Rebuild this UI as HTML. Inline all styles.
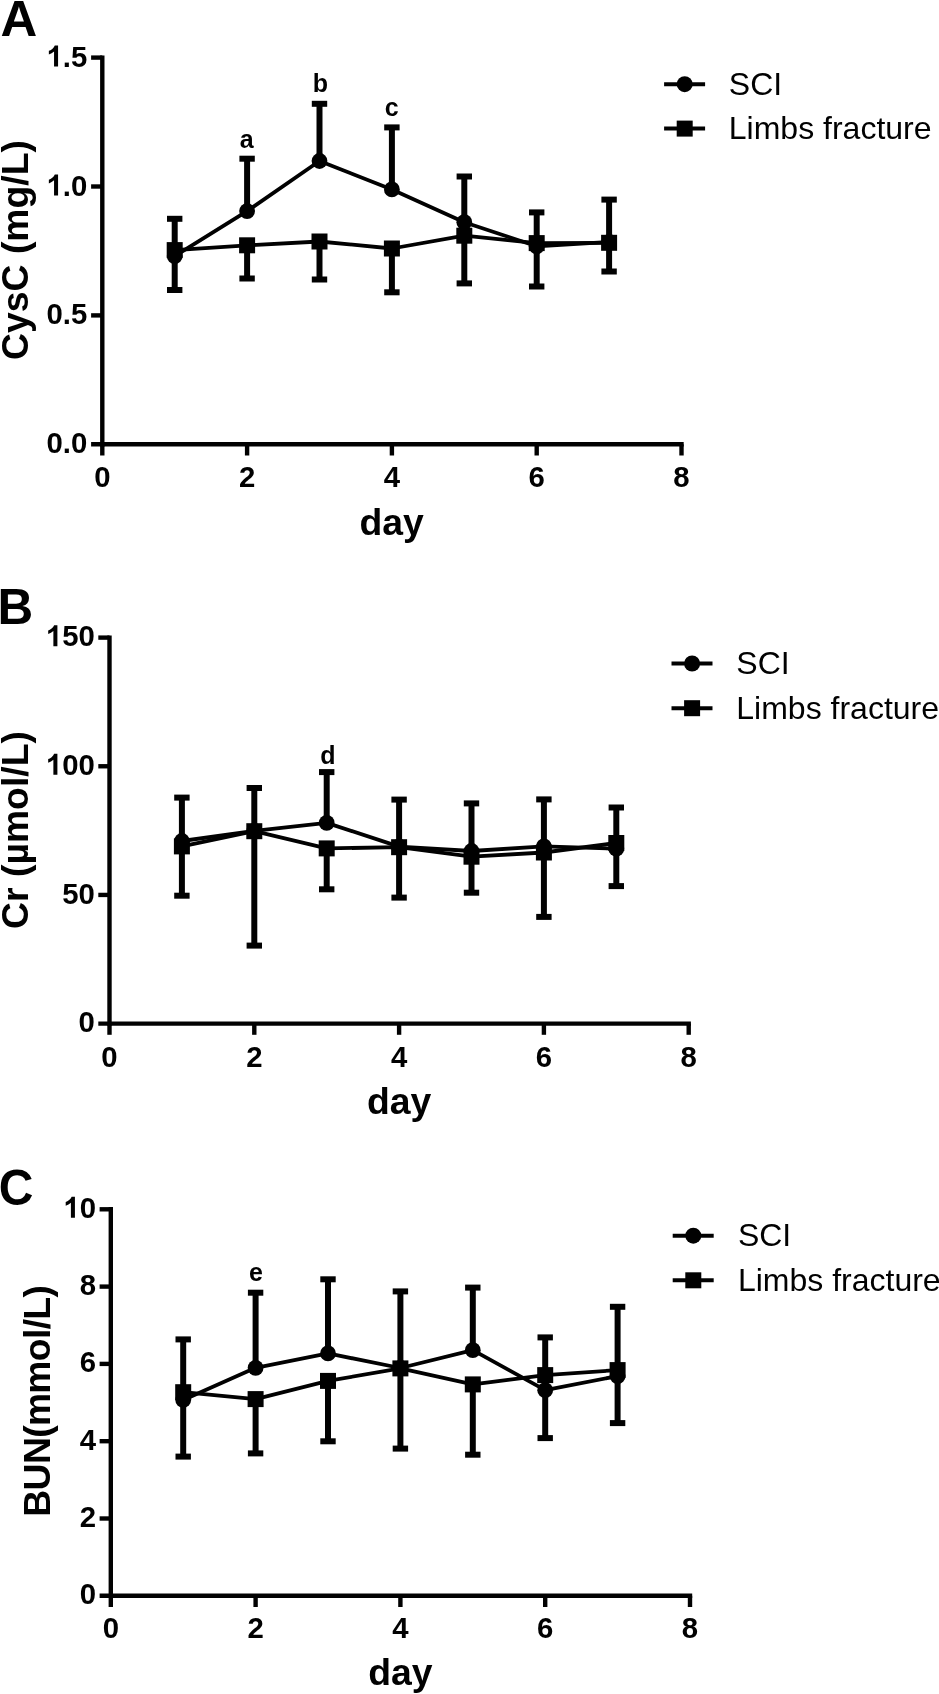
<!DOCTYPE html>
<html lang="en">
<head>
<meta charset="utf-8">
<title>CysC, Cr and BUN by day: SCI vs limbs fracture</title>
<style>
html,body{margin:0;padding:0;background:#fff;}
body{width:939px;height:1694px;overflow:hidden;}
svg{display:block;}
svg text{font-family:"Liberation Sans",sans-serif;fill:#000;}
</style>
</head>
<body>
<svg width="939" height="1694" viewBox="0 0 939 1694" shape-rendering="geometricPrecision">
<rect x="0" y="0" width="939" height="1694" fill="#fff"/>
<g opacity="0.9995">
<g>
<path d="M102.3 55.4V446.5" stroke="#000" stroke-width="4.4" fill="none"/>
<path d="M91.1 444.3H683.7" stroke="#000" stroke-width="4.4" fill="none"/>
<text transform="translate(87.3 453.3) scale(1.0 1.03)" text-anchor="end" font-size="29.33" font-weight="bold">0.0</text>
<path d="M91.1 315.4H102.3" stroke="#000" stroke-width="4.4"/>
<text transform="translate(87.3 324.4) scale(1.0 1.03)" text-anchor="end" font-size="29.33" font-weight="bold">0.5</text>
<path d="M91.1 186.5H102.3" stroke="#000" stroke-width="4.4"/>
<text transform="translate(87.3 195.5) scale(1.0 1.03)" text-anchor="end" font-size="29.33" font-weight="bold">.0</text>
<path transform="translate(46.53 195.5) scale(0.01432 -0.01432)" d="M806 0H525V1059Q371 915 162 846V1101Q272 1137 401 1237.5T578 1472H806Z"/>
<path d="M91.1 57.6H102.3" stroke="#000" stroke-width="4.4"/>
<text transform="translate(87.3 66.6) scale(1.0 1.03)" text-anchor="end" font-size="29.33" font-weight="bold">.5</text>
<path transform="translate(46.53 66.6) scale(0.01432 -0.01432)" d="M806 0H525V1059Q371 915 162 846V1101Q272 1137 401 1237.5T578 1472H806Z"/>
<path d="M102.3 444.3V455.5" stroke="#000" stroke-width="4.4"/>
<text transform="translate(102.3 486.9) scale(1.0 1.03)" text-anchor="middle" font-size="29.33" font-weight="bold">0</text>
<path d="M247.1 444.3V455.5" stroke="#000" stroke-width="4.4"/>
<text transform="translate(247.1 486.9) scale(1.0 1.03)" text-anchor="middle" font-size="29.33" font-weight="bold">2</text>
<path d="M391.9 444.3V455.5" stroke="#000" stroke-width="4.4"/>
<text transform="translate(391.9 486.9) scale(1.0 1.03)" text-anchor="middle" font-size="29.33" font-weight="bold">4</text>
<path d="M536.7 444.3V455.5" stroke="#000" stroke-width="4.4"/>
<text transform="translate(536.7 486.9) scale(1.0 1.03)" text-anchor="middle" font-size="29.33" font-weight="bold">6</text>
<path d="M681.5 444.3V455.5" stroke="#000" stroke-width="4.4"/>
<text transform="translate(681.5 486.9) scale(1.0 1.03)" text-anchor="middle" font-size="29.33" font-weight="bold">8</text>
<text x="391.7" y="534.7" text-anchor="middle" font-size="37.33" font-weight="bold">day</text>
<text transform="translate(28 250) rotate(-90)" text-anchor="middle" font-size="37.33" font-weight="bold">CysC (mg/L)</text>
<text transform="translate(0.6 35.9) scale(1.06 1.03)" font-size="48" font-weight="bold">A</text>
<path d="M174.7 256.1V218.8" stroke="#000" stroke-width="6.0"/>
<rect x="167" y="215.8" width="15.4" height="6.0"/>
<path d="M174.7 250.1V290" stroke="#000" stroke-width="6.0"/>
<rect x="167" y="287" width="15.4" height="6.0"/>
<path d="M247.1 211.1V158.7" stroke="#000" stroke-width="6.0"/>
<rect x="239.4" y="155.7" width="15.4" height="6.0"/>
<path d="M247.1 245.3V278.5" stroke="#000" stroke-width="6.0"/>
<rect x="239.4" y="275.5" width="15.4" height="6.0"/>
<path d="M319.5 161V103.8" stroke="#000" stroke-width="6.0"/>
<rect x="311.8" y="100.8" width="15.4" height="6.0"/>
<path d="M319.5 241.5V279.5" stroke="#000" stroke-width="6.0"/>
<rect x="311.8" y="276.5" width="15.4" height="6.0"/>
<path d="M391.9 189.4V127.4" stroke="#000" stroke-width="6.0"/>
<rect x="384.2" y="124.4" width="15.4" height="6.0"/>
<path d="M391.9 248.5V292.3" stroke="#000" stroke-width="6.0"/>
<rect x="384.2" y="289.3" width="15.4" height="6.0"/>
<path d="M464.3 222.2V176.5" stroke="#000" stroke-width="6.0"/>
<rect x="456.6" y="173.5" width="15.4" height="6.0"/>
<path d="M464.3 235.7V283.4" stroke="#000" stroke-width="6.0"/>
<rect x="456.6" y="280.4" width="15.4" height="6.0"/>
<path d="M536.7 246.3V212.4" stroke="#000" stroke-width="6.0"/>
<rect x="529" y="209.4" width="15.4" height="6.0"/>
<path d="M536.7 243.1V286.5" stroke="#000" stroke-width="6.0"/>
<rect x="529" y="283.5" width="15.4" height="6.0"/>
<path d="M609.1 242V199.6" stroke="#000" stroke-width="6.0"/>
<rect x="601.4" y="196.6" width="15.4" height="6.0"/>
<path d="M609.1 242.8V271.5" stroke="#000" stroke-width="6.0"/>
<rect x="601.4" y="268.5" width="15.4" height="6.0"/>
<polyline points="174.7,256.1 247.1,211.1 319.5,161 391.9,189.4 464.3,222.2 536.7,246.3 609.1,242" fill="none" stroke="#000" stroke-width="3.8" stroke-linejoin="round"/>
<polyline points="174.7,250.1 247.1,245.3 319.5,241.5 391.9,248.5 464.3,235.7 536.7,243.1 609.1,242.8" fill="none" stroke="#000" stroke-width="3.8" stroke-linejoin="round"/>
<circle cx="174.7" cy="256.1" r="7.9"/>
<circle cx="247.1" cy="211.1" r="7.9"/>
<circle cx="319.5" cy="161" r="7.9"/>
<circle cx="391.9" cy="189.4" r="7.9"/>
<circle cx="464.3" cy="222.2" r="7.9"/>
<circle cx="536.7" cy="246.3" r="7.9"/>
<circle cx="609.1" cy="242" r="7.9"/>
<rect x="166.7" y="242.1" width="16.0" height="16.0"/>
<rect x="239.1" y="237.3" width="16.0" height="16.0"/>
<rect x="311.5" y="233.5" width="16.0" height="16.0"/>
<rect x="383.9" y="240.5" width="16.0" height="16.0"/>
<rect x="456.3" y="227.7" width="16.0" height="16.0"/>
<rect x="528.7" y="235.1" width="16.0" height="16.0"/>
<rect x="601.1" y="234.8" width="16.0" height="16.0"/>
<text x="246.8" y="148" text-anchor="middle" font-size="25" font-weight="bold">a</text>
<text x="320.5" y="91.6" text-anchor="middle" font-size="25" font-weight="bold">b</text>
<text x="391.7" y="115.5" text-anchor="middle" font-size="25" font-weight="bold">c</text>
<path d="M664.1 84.2H705.1" stroke="#000" stroke-width="4"/>
<circle cx="684.7" cy="84.2" r="8"/>
<text x="728.8" y="94.8" font-size="32">SCI</text>
<path d="M664.1 128.6H705.1" stroke="#000" stroke-width="4"/>
<rect x="676.7" y="120.6" width="16" height="16"/>
<text x="728.8" y="139.2" font-size="32">Limbs fracture</text>
</g>
<g>
<path d="M109.5 635.4V1025.8" stroke="#000" stroke-width="4.4" fill="none"/>
<path d="M98.3 1023.6H690.9" stroke="#000" stroke-width="4.4" fill="none"/>
<text transform="translate(94.8 1032.2) scale(1.0 1.03)" text-anchor="end" font-size="29.33" font-weight="bold">0</text>
<path d="M98.3 894.93H109.5" stroke="#000" stroke-width="4.4"/>
<text transform="translate(94.8 903.53) scale(1.0 1.03)" text-anchor="end" font-size="29.33" font-weight="bold">50</text>
<path d="M98.3 766.27H109.5" stroke="#000" stroke-width="4.4"/>
<text transform="translate(94.8 774.87) scale(1.0 1.03)" text-anchor="end" font-size="29.33" font-weight="bold">00</text>
<path transform="translate(45.86 774.87) scale(0.01432 -0.01432)" d="M806 0H525V1059Q371 915 162 846V1101Q272 1137 401 1237.5T578 1472H806Z"/>
<path d="M98.3 637.61H109.5" stroke="#000" stroke-width="4.4"/>
<text transform="translate(94.8 646.21) scale(1.0 1.03)" text-anchor="end" font-size="29.33" font-weight="bold">50</text>
<path transform="translate(45.86 646.21) scale(0.01432 -0.01432)" d="M806 0H525V1059Q371 915 162 846V1101Q272 1137 401 1237.5T578 1472H806Z"/>
<path d="M109.5 1023.6V1034.8" stroke="#000" stroke-width="4.4"/>
<text transform="translate(109.5 1066.6) scale(1.0 1.03)" text-anchor="middle" font-size="29.33" font-weight="bold">0</text>
<path d="M254.3 1023.6V1034.8" stroke="#000" stroke-width="4.4"/>
<text transform="translate(254.3 1066.6) scale(1.0 1.03)" text-anchor="middle" font-size="29.33" font-weight="bold">2</text>
<path d="M399.1 1023.6V1034.8" stroke="#000" stroke-width="4.4"/>
<text transform="translate(399.1 1066.6) scale(1.0 1.03)" text-anchor="middle" font-size="29.33" font-weight="bold">4</text>
<path d="M543.9 1023.6V1034.8" stroke="#000" stroke-width="4.4"/>
<text transform="translate(543.9 1066.6) scale(1.0 1.03)" text-anchor="middle" font-size="29.33" font-weight="bold">6</text>
<path d="M688.7 1023.6V1034.8" stroke="#000" stroke-width="4.4"/>
<text transform="translate(688.7 1066.6) scale(1.0 1.03)" text-anchor="middle" font-size="29.33" font-weight="bold">8</text>
<text x="399.2" y="1113.8" text-anchor="middle" font-size="37.33" font-weight="bold">day</text>
<text transform="translate(27.5 830) rotate(-90)" text-anchor="middle" font-size="37.33" font-weight="bold">Cr (µmol/L)</text>
<text transform="translate(-2.5 624) scale(1.03 1.03)" font-size="48" font-weight="bold">B</text>
<path d="M181.9 841V797.6" stroke="#000" stroke-width="6.0"/>
<rect x="174.2" y="794.6" width="15.4" height="6.0"/>
<path d="M181.9 846.4V895.7" stroke="#000" stroke-width="6.0"/>
<rect x="174.2" y="892.7" width="15.4" height="6.0"/>
<path d="M254.3 830.8V788" stroke="#000" stroke-width="6.0"/>
<rect x="246.6" y="785" width="15.4" height="6.0"/>
<path d="M254.3 831.2V945.6" stroke="#000" stroke-width="6.0"/>
<rect x="246.6" y="942.6" width="15.4" height="6.0"/>
<path d="M326.7 822.9V772.1" stroke="#000" stroke-width="6.0"/>
<rect x="319" y="769.1" width="15.4" height="6.0"/>
<path d="M326.7 848.4V889.3" stroke="#000" stroke-width="6.0"/>
<rect x="319" y="886.3" width="15.4" height="6.0"/>
<path d="M399.1 846.6V799.6" stroke="#000" stroke-width="6.0"/>
<rect x="391.4" y="796.6" width="15.4" height="6.0"/>
<path d="M399.1 847.2V897.6" stroke="#000" stroke-width="6.0"/>
<rect x="391.4" y="894.6" width="15.4" height="6.0"/>
<path d="M471.5 851V803.4" stroke="#000" stroke-width="6.0"/>
<rect x="463.8" y="800.4" width="15.4" height="6.0"/>
<path d="M471.5 856.7V892.7" stroke="#000" stroke-width="6.0"/>
<rect x="463.8" y="889.7" width="15.4" height="6.0"/>
<path d="M543.9 846.4V799.4" stroke="#000" stroke-width="6.0"/>
<rect x="536.2" y="796.4" width="15.4" height="6.0"/>
<path d="M543.9 852.5V916.9" stroke="#000" stroke-width="6.0"/>
<rect x="536.2" y="913.9" width="15.4" height="6.0"/>
<path d="M616.3 848.7V807.5" stroke="#000" stroke-width="6.0"/>
<rect x="608.6" y="804.5" width="15.4" height="6.0"/>
<path d="M616.3 843V886.1" stroke="#000" stroke-width="6.0"/>
<rect x="608.6" y="883.1" width="15.4" height="6.0"/>
<polyline points="181.9,841 254.3,830.8 326.7,822.9 399.1,846.6 471.5,851 543.9,846.4 616.3,848.7" fill="none" stroke="#000" stroke-width="3.8" stroke-linejoin="round"/>
<polyline points="181.9,846.4 254.3,831.2 326.7,848.4 399.1,847.2 471.5,856.7 543.9,852.5 616.3,843" fill="none" stroke="#000" stroke-width="3.8" stroke-linejoin="round"/>
<circle cx="181.9" cy="841" r="7.9"/>
<circle cx="254.3" cy="830.8" r="7.9"/>
<circle cx="326.7" cy="822.9" r="7.9"/>
<circle cx="399.1" cy="846.6" r="7.9"/>
<circle cx="471.5" cy="851" r="7.9"/>
<circle cx="543.9" cy="846.4" r="7.9"/>
<circle cx="616.3" cy="848.7" r="7.9"/>
<rect x="173.9" y="838.4" width="16.0" height="16.0"/>
<rect x="246.3" y="823.2" width="16.0" height="16.0"/>
<rect x="318.7" y="840.4" width="16.0" height="16.0"/>
<rect x="391.1" y="839.2" width="16.0" height="16.0"/>
<rect x="463.5" y="848.7" width="16.0" height="16.0"/>
<rect x="535.9" y="844.5" width="16.0" height="16.0"/>
<rect x="608.3" y="835" width="16.0" height="16.0"/>
<text x="327.8" y="764" text-anchor="middle" font-size="25" font-weight="bold">d</text>
<path d="M671.5 663.5H712.5" stroke="#000" stroke-width="4"/>
<circle cx="692.1" cy="663.5" r="8"/>
<text x="736.3" y="674.1" font-size="32">SCI</text>
<path d="M671.5 708.2H712.5" stroke="#000" stroke-width="4"/>
<rect x="684.1" y="700.2" width="16" height="16"/>
<text x="736.3" y="718.8" font-size="32">Limbs fracture</text>
</g>
<g>
<path d="M110.8 1207.1V1598" stroke="#000" stroke-width="4.4" fill="none"/>
<path d="M99.6 1595.8H692.2" stroke="#000" stroke-width="4.4" fill="none"/>
<text transform="translate(96 1604.3) scale(1.0 1.03)" text-anchor="end" font-size="29.33" font-weight="bold">0</text>
<path d="M99.6 1518.5H110.8" stroke="#000" stroke-width="4.4"/>
<text transform="translate(96 1527) scale(1.0 1.03)" text-anchor="end" font-size="29.33" font-weight="bold">2</text>
<path d="M99.6 1441.2H110.8" stroke="#000" stroke-width="4.4"/>
<text transform="translate(96 1449.7) scale(1.0 1.03)" text-anchor="end" font-size="29.33" font-weight="bold">4</text>
<path d="M99.6 1363.9H110.8" stroke="#000" stroke-width="4.4"/>
<text transform="translate(96 1372.4) scale(1.0 1.03)" text-anchor="end" font-size="29.33" font-weight="bold">6</text>
<path d="M99.6 1286.6H110.8" stroke="#000" stroke-width="4.4"/>
<text transform="translate(96 1295.1) scale(1.0 1.03)" text-anchor="end" font-size="29.33" font-weight="bold">8</text>
<path d="M99.6 1209.3H110.8" stroke="#000" stroke-width="4.4"/>
<text transform="translate(96 1217.8) scale(1.0 1.03)" text-anchor="end" font-size="29.33" font-weight="bold">0</text>
<path transform="translate(63.38 1217.8) scale(0.01432 -0.01432)" d="M806 0H525V1059Q371 915 162 846V1101Q272 1137 401 1237.5T578 1472H806Z"/>
<path d="M110.8 1595.8V1607" stroke="#000" stroke-width="4.4"/>
<text transform="translate(110.8 1637.8) scale(1.0 1.03)" text-anchor="middle" font-size="29.33" font-weight="bold">0</text>
<path d="M255.6 1595.8V1607" stroke="#000" stroke-width="4.4"/>
<text transform="translate(255.6 1637.8) scale(1.0 1.03)" text-anchor="middle" font-size="29.33" font-weight="bold">2</text>
<path d="M400.4 1595.8V1607" stroke="#000" stroke-width="4.4"/>
<text transform="translate(400.4 1637.8) scale(1.0 1.03)" text-anchor="middle" font-size="29.33" font-weight="bold">4</text>
<path d="M545.2 1595.8V1607" stroke="#000" stroke-width="4.4"/>
<text transform="translate(545.2 1637.8) scale(1.0 1.03)" text-anchor="middle" font-size="29.33" font-weight="bold">6</text>
<path d="M690 1595.8V1607" stroke="#000" stroke-width="4.4"/>
<text transform="translate(690 1637.8) scale(1.0 1.03)" text-anchor="middle" font-size="29.33" font-weight="bold">8</text>
<text x="400.3" y="1685.2" text-anchor="middle" font-size="37.33" font-weight="bold">day</text>
<text transform="translate(49.8 1400.9) rotate(-90)" text-anchor="middle" font-size="37.33" font-weight="bold" textLength="231.5" lengthAdjust="spacing">BUN(mmol/L)</text>
<text transform="translate(-1.3 1204.6) scale(1.0 1.03)" font-size="48" font-weight="bold">C</text>
<path d="M183.2 1399.9V1339.4" stroke="#000" stroke-width="6.0"/>
<rect x="175.5" y="1336.4" width="15.4" height="6.0"/>
<path d="M183.2 1392.2V1456.6" stroke="#000" stroke-width="6.0"/>
<rect x="175.5" y="1453.6" width="15.4" height="6.0"/>
<path d="M255.6 1367.8V1292.7" stroke="#000" stroke-width="6.0"/>
<rect x="247.9" y="1289.7" width="15.4" height="6.0"/>
<path d="M255.6 1399.1V1453.4" stroke="#000" stroke-width="6.0"/>
<rect x="247.9" y="1450.4" width="15.4" height="6.0"/>
<path d="M328 1353.4V1279.3" stroke="#000" stroke-width="6.0"/>
<rect x="320.3" y="1276.3" width="15.4" height="6.0"/>
<path d="M328 1380.9V1441.3" stroke="#000" stroke-width="6.0"/>
<rect x="320.3" y="1438.3" width="15.4" height="6.0"/>
<path d="M400.4 1368V1291.4" stroke="#000" stroke-width="6.0"/>
<rect x="392.7" y="1288.4" width="15.4" height="6.0"/>
<path d="M400.4 1368.4V1448.6" stroke="#000" stroke-width="6.0"/>
<rect x="392.7" y="1445.6" width="15.4" height="6.0"/>
<path d="M472.8 1350.2V1287.6" stroke="#000" stroke-width="6.0"/>
<rect x="465.1" y="1284.6" width="15.4" height="6.0"/>
<path d="M472.8 1384.4V1454.7" stroke="#000" stroke-width="6.0"/>
<rect x="465.1" y="1451.7" width="15.4" height="6.0"/>
<path d="M545.2 1390.2V1337.4" stroke="#000" stroke-width="6.0"/>
<rect x="537.5" y="1334.4" width="15.4" height="6.0"/>
<path d="M545.2 1375.1V1438.1" stroke="#000" stroke-width="6.0"/>
<rect x="537.5" y="1435.1" width="15.4" height="6.0"/>
<path d="M617.6 1376.1V1306.8" stroke="#000" stroke-width="6.0"/>
<rect x="609.9" y="1303.8" width="15.4" height="6.0"/>
<path d="M617.6 1370.1V1423.1" stroke="#000" stroke-width="6.0"/>
<rect x="609.9" y="1420.1" width="15.4" height="6.0"/>
<polyline points="183.2,1399.9 255.6,1367.8 328,1353.4 400.4,1368 472.8,1350.2 545.2,1390.2 617.6,1376.1" fill="none" stroke="#000" stroke-width="3.8" stroke-linejoin="round"/>
<polyline points="183.2,1392.2 255.6,1399.1 328,1380.9 400.4,1368.4 472.8,1384.4 545.2,1375.1 617.6,1370.1" fill="none" stroke="#000" stroke-width="3.8" stroke-linejoin="round"/>
<circle cx="183.2" cy="1399.9" r="7.9"/>
<circle cx="255.6" cy="1367.8" r="7.9"/>
<circle cx="328" cy="1353.4" r="7.9"/>
<circle cx="400.4" cy="1368" r="7.9"/>
<circle cx="472.8" cy="1350.2" r="7.9"/>
<circle cx="545.2" cy="1390.2" r="7.9"/>
<circle cx="617.6" cy="1376.1" r="7.9"/>
<rect x="175.2" y="1384.2" width="16.0" height="16.0"/>
<rect x="247.6" y="1391.1" width="16.0" height="16.0"/>
<rect x="320" y="1372.9" width="16.0" height="16.0"/>
<rect x="392.4" y="1360.4" width="16.0" height="16.0"/>
<rect x="464.8" y="1376.4" width="16.0" height="16.0"/>
<rect x="537.2" y="1367.1" width="16.0" height="16.0"/>
<rect x="609.6" y="1362.1" width="16.0" height="16.0"/>
<text x="256" y="1281.4" text-anchor="middle" font-size="25" font-weight="bold">e</text>
<path d="M672.7 1235.7H713.7" stroke="#000" stroke-width="4"/>
<circle cx="693.3" cy="1235.7" r="8"/>
<text x="737.9" y="1246.3" font-size="32">SCI</text>
<path d="M672.7 1280.3H713.7" stroke="#000" stroke-width="4"/>
<rect x="685.3" y="1272.3" width="16" height="16"/>
<text x="737.9" y="1290.9" font-size="32">Limbs fracture</text>
</g>
</g>
</svg>
</body>
</html>
